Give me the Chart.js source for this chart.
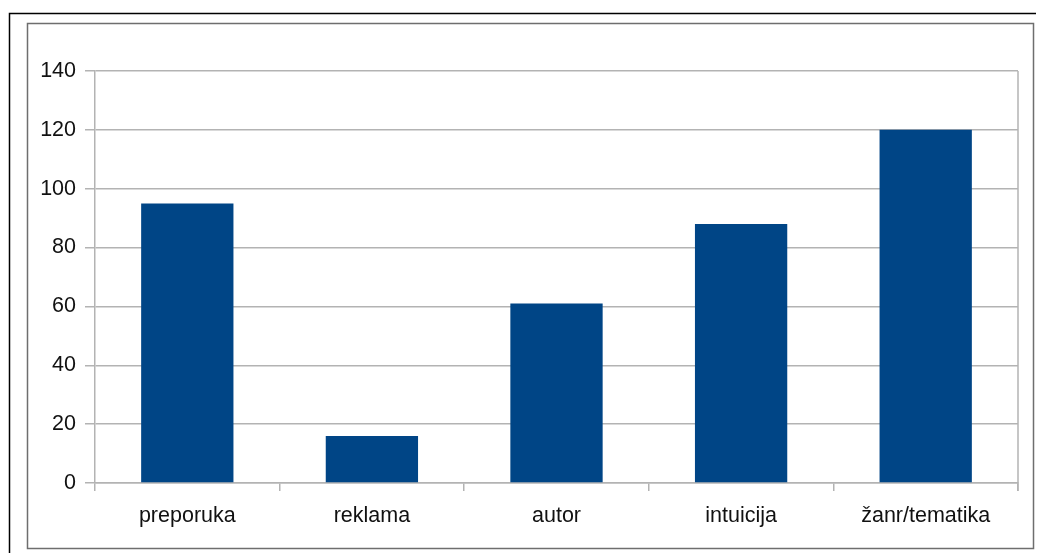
<!DOCTYPE html>
<html>
<head>
<meta charset="utf-8">
<script src="https://cdn.jsdelivr.net/npm/chart.js@4/dist/chart.umd.min.js"></script>
<style>
html,body{margin:0;padding:0;background:#fff;}
canvas{display:block;}
</style>
</head>
<body>
<canvas id="c" width="1041" height="553"></canvas>
<script>
const categories = ["preporuka", "reklama", "autor", "intuicija", "žanr/tematika"];
const values = [95, 16, 61, 88, 120];
const yTicks = [0, 20, 40, 60, 80, 100, 120, 140];

const frame = {
  id: 'frame',
  beforeDraw(chart) {
    const ctx = chart.ctx;
    ctx.save();
    ctx.fillStyle = '#fff';
    ctx.fillRect(0, 0, chart.width, chart.height);
    ctx.strokeStyle = '#000';
    ctx.lineWidth = 1.5;
    ctx.beginPath();
    ctx.moveTo(9.5, 553);
    ctx.lineTo(9.5, 13.5);
    ctx.lineTo(1036, 13.5);
    ctx.stroke();
    ctx.strokeStyle = '#6e6e6e';
    ctx.lineWidth = 1.5;
    ctx.strokeRect(27.5, 23.5, 1006, 525);
    ctx.restore();
  },
  afterDatasetsDraw(chart) {
    const ctx = chart.ctx, a = chart.chartArea;
    ctx.save();
    ctx.strokeStyle = '#b3b3b3';
    ctx.lineWidth = 1.5;
    ctx.beginPath();
    ctx.moveTo(a.right, a.top);
    ctx.lineTo(a.right, a.bottom + 8);
    ctx.stroke();
    ctx.restore();
  }
};

new Chart(document.getElementById('c'), {
  type: 'bar',
  data: {
    labels: categories,
    datasets: [{
      data: values,
      backgroundColor: '#004586',
      borderWidth: 0,
      barPercentage: 0.5,
      categoryPercentage: 1.0
    }]
  },
  options: {
    responsive: false,
    animation: false,
    devicePixelRatio: 1,
    layout: { padding: { left: 0, top: 71, right: 23, bottom: 0 } },
    plugins: { legend: { display: false }, tooltip: { enabled: false } },
    scales: {
      x: {
        grid: { offset: true, drawOnChartArea: false, tickLength: 8, color: '#b3b3b3', lineWidth: 1.5 },
        border: { color: '#b3b3b3', width: 1.5 },
        ticks: { color: '#111', padding: 12, font: { family: 'Liberation Sans, Arial, sans-serif', size: 21.5 }, maxRotation: 0 },
        afterFit(s) { s.height = 70; }
      },
      y: {
        min: 0, max: 140,
        afterBuildTicks(s) { s.ticks = yTicks.map(v => ({ value: v })); },
        grid: { tickLength: 10, color: '#b3b3b3', lineWidth: 1.5 },
        border: { color: '#b3b3b3', width: 1.5 },
        ticks: { color: '#111', padding: 9, font: { family: 'Liberation Sans, Arial, sans-serif', size: 21.5 } },
        afterFit(s) { s.width = 95; }
      }
    }
  },
  plugins: [frame]
});
</script>
</body>
</html>
